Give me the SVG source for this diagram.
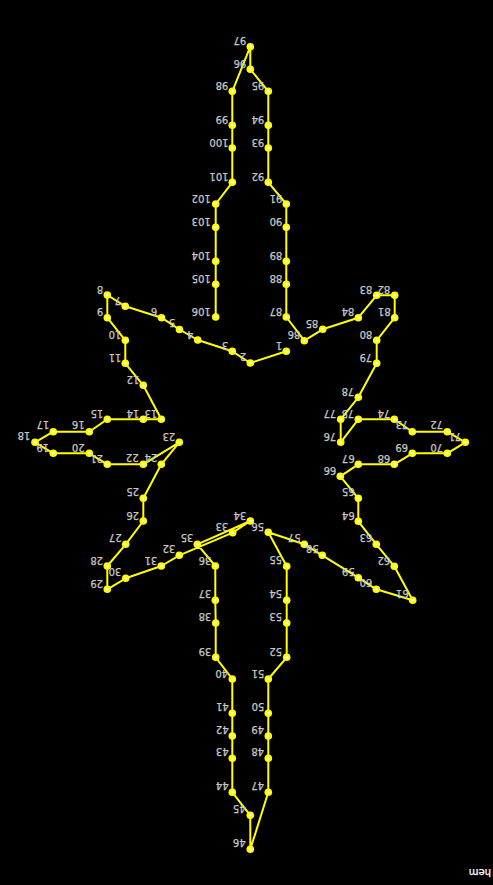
<svg xmlns="http://www.w3.org/2000/svg" width="493" height="885" viewBox="0 0 493 885">
<style>
text{font-family:"DejaVu Sans",sans-serif;font-size:10px;fill:#c8c8c8;stroke:#c8c8c8;stroke-width:.25;text-anchor:middle;dominant-baseline:central}
.edge{fill:none;stroke:#ffff00;stroke-width:2;stroke-linejoin:round}
text.note{fill:#fff;stroke:#fff;text-anchor:start;dominant-baseline:alphabetic}
</style>
<defs><g id="d"><circle r="3.8" fill="#ffff00"/><circle r="1.2" fill="#fff"/></g></defs>
<rect width="493" height="885" fill="#000"/>
<g id="connectors"><polyline class="edge" points="286.3,351.3 250.3,363 232.3,351.3 197.7,340 179.5,329.5 161.5,317.7 125.3,306.3 107.3,295 107.3,317.7 125.3,340.3 125.3,363.3 143.3,385.3 161.3,419.3 143.3,419.3 107.3,419.3 89.3,431.7 53.3,431.7 35,442.3 53.3,453.3 89.3,453.3 107.3,464.3 143.3,464.3 179.3,442.3 161.3,464.3 143.3,498.3 143.3,521 125.7,544.3 107.3,566 107.3,589.3 125.7,578.3 161.3,566 179.3,555.3 232.7,532.7 250.3,521 197.3,544.3 215.3,566 215.3,600.3 215.7,623 215.7,657.3 232.3,679 232.3,713.3 232.3,736 232.3,758.3 232.3,792.3 250.3,815.3 250.3,849.3 268.3,792.3 268.3,758.3 268.3,736 268.3,713.3 268.3,679 286.7,657.3 286.7,623 286.7,600.3 286.7,566.3 268.3,532.3 304.3,544.3 322.3,555.3 358.3,577.7 376.3,589.3 412.7,600.3 394.3,566.3 376.3,544.3 358.3,521.3 358.3,498.3 340.3,476.3 358.3,464.3 394.3,464.3 412.3,453.3 447.3,453.3 465.3,442.3 447.3,431.7 412.3,431.7 394.3,419.3 358.3,419.3 340.7,442.3 340.7,419.3 358.3,397.3 376.7,363.3 376.7,340.3 394.7,317.7 394.7,295.3 376.7,295.3 358.3,317.7 322.7,329.3 304.3,340.7 286.3,317 286.3,284.3 286.3,261.3 286.3,227.3 286.3,204 268.3,182.3 268.3,148 268.3,125.3 268.3,91.3 250.3,69.3 250.3,46.7 232.3,91.3 232.3,125.3 232.3,148 232.3,182.3 215.7,204 215.7,227.3 215.7,261.3 215.7,284.3 215.7,317"/></g>
<g id="n1"><use href="#d" x="286.3" y="351.3"/><text transform="translate(279,345) rotate(180)">1</text></g>
<g id="n2"><use href="#d" x="250.3" y="363"/><text transform="translate(243,356.7) rotate(180)">2</text></g>
<g id="n3"><use href="#d" x="232.3" y="351.3"/><text transform="translate(225,345) rotate(180)">3</text></g>
<g id="n4"><use href="#d" x="197.7" y="340"/><text transform="translate(190,334) rotate(180)">4</text></g>
<g id="n5"><use href="#d" x="179.5" y="329.5"/><text transform="translate(172,322.7) rotate(180)">5</text></g>
<g id="n6"><use href="#d" x="161.5" y="317.7"/><text transform="translate(154,311.3) rotate(180)">6</text></g>
<g id="n7"><use href="#d" x="125.3" y="306.3"/><text transform="translate(117.7,300) rotate(180)">7</text></g>
<g id="n8"><use href="#d" x="107.3" y="295"/><text transform="translate(100,289) rotate(180)">8</text></g>
<g id="n9"><use href="#d" x="107.3" y="317.7"/><text transform="translate(100,311.3) rotate(180)">9</text></g>
<g id="n10"><use href="#d" x="125.3" y="340.3"/><text transform="translate(115,334) rotate(180)">10</text></g>
<g id="n11"><use href="#d" x="125.3" y="363.3"/><text transform="translate(115,357) rotate(180)">11</text></g>
<g id="n12"><use href="#d" x="143.3" y="385.3"/><text transform="translate(133,379) rotate(180)">12</text></g>
<g id="n13"><use href="#d" x="161.3" y="419.3"/><text transform="translate(151,413) rotate(180)">13</text></g>
<g id="n14"><use href="#d" x="143.3" y="419.3"/><text transform="translate(133,413) rotate(180)">14</text></g>
<g id="n15"><use href="#d" x="107.3" y="419.3"/><text transform="translate(97,413) rotate(180)">15</text></g>
<g id="n16"><use href="#d" x="89.3" y="431.7"/><text transform="translate(78.3,424.7) rotate(180)">16</text></g>
<g id="n17"><use href="#d" x="53.3" y="431.7"/><text transform="translate(43,424.7) rotate(180)">17</text></g>
<g id="n18"><use href="#d" x="35" y="442.3"/><text transform="translate(24,435.7) rotate(180)">18</text></g>
<g id="n19"><use href="#d" x="53.3" y="453.3"/><text transform="translate(42.7,447) rotate(180)">19</text></g>
<g id="n20"><use href="#d" x="89.3" y="453.3"/><text transform="translate(78.3,447) rotate(180)">20</text></g>
<g id="n21"><use href="#d" x="107.3" y="464.3"/><text transform="translate(96.7,458.3) rotate(180)">21</text></g>
<g id="n22"><use href="#d" x="143.3" y="464.3"/><text transform="translate(132.3,457.7) rotate(180)">22</text></g>
<g id="n23"><use href="#d" x="179.3" y="442.3"/><text transform="translate(169,436) rotate(180)">23</text></g>
<g id="n24"><use href="#d" x="161.3" y="464.3"/><text transform="translate(151,457.7) rotate(180)">24</text></g>
<g id="n25"><use href="#d" x="143.3" y="498.3"/><text transform="translate(132.7,491.7) rotate(180)">25</text></g>
<g id="n26"><use href="#d" x="143.3" y="521"/><text transform="translate(132.7,515) rotate(180)">26</text></g>
<g id="n27"><use href="#d" x="125.7" y="544.3"/><text transform="translate(115.3,537.7) rotate(180)">27</text></g>
<g id="n28"><use href="#d" x="107.3" y="566"/><text transform="translate(96.7,560) rotate(180)">28</text></g>
<g id="n29"><use href="#d" x="107.3" y="589.3"/><text transform="translate(96.7,583) rotate(180)">29</text></g>
<g id="n30"><use href="#d" x="125.7" y="578.3"/><text transform="translate(115,571.7) rotate(180)">30</text></g>
<g id="n31"><use href="#d" x="161.3" y="566"/><text transform="translate(151,560) rotate(180)">31</text></g>
<g id="n32"><use href="#d" x="179.3" y="555.3"/><text transform="translate(169,548.7) rotate(180)">32</text></g>
<g id="n33"><use href="#d" x="232.7" y="532.7"/><text transform="translate(222,526) rotate(180)">33</text></g>
<g id="n34"><use href="#d" x="250.3" y="521"/><text transform="translate(240,515) rotate(180)">34</text></g>
<g id="n35"><use href="#d" x="197.3" y="544.3"/><text transform="translate(187,537.7) rotate(180)">35</text></g>
<g id="n36"><use href="#d" x="215.3" y="566"/><text transform="translate(205,560) rotate(180)">36</text></g>
<g id="n37"><use href="#d" x="215.3" y="600.3"/><text transform="translate(205,593.7) rotate(180)">37</text></g>
<g id="n38"><use href="#d" x="215.7" y="623"/><text transform="translate(205,616.7) rotate(180)">38</text></g>
<g id="n39"><use href="#d" x="215.7" y="657.3"/><text transform="translate(205,651) rotate(180)">39</text></g>
<g id="n40"><use href="#d" x="232.3" y="679"/><text transform="translate(221.7,673) rotate(180)">40</text></g>
<g id="n41"><use href="#d" x="232.3" y="713.3"/><text transform="translate(222.5,706.7) rotate(180)">41</text></g>
<g id="n42"><use href="#d" x="232.3" y="736"/><text transform="translate(222.3,729.3) rotate(180)">42</text></g>
<g id="n43"><use href="#d" x="232.3" y="758.3"/><text transform="translate(222.3,751.7) rotate(180)">43</text></g>
<g id="n44"><use href="#d" x="232.3" y="792.3"/><text transform="translate(222.3,785.7) rotate(180)">44</text></g>
<g id="n45"><use href="#d" x="250.3" y="815.3"/><text transform="translate(239.3,808.7) rotate(180)">45</text></g>
<g id="n46"><use href="#d" x="250.3" y="849.3"/><text transform="translate(239.3,842.7) rotate(180)">46</text></g>
<g id="n47"><use href="#d" x="268.3" y="792.3"/><text transform="translate(257.7,785.7) rotate(180)">47</text></g>
<g id="n48"><use href="#d" x="268.3" y="758.3"/><text transform="translate(257.7,751.7) rotate(180)">48</text></g>
<g id="n49"><use href="#d" x="268.3" y="736"/><text transform="translate(257.7,729.3) rotate(180)">49</text></g>
<g id="n50"><use href="#d" x="268.3" y="713.3"/><text transform="translate(258,706.7) rotate(180)">50</text></g>
<g id="n51"><use href="#d" x="268.3" y="679"/><text transform="translate(258,673) rotate(180)">51</text></g>
<g id="n52"><use href="#d" x="286.7" y="657.3"/><text transform="translate(275.7,651) rotate(180)">52</text></g>
<g id="n53"><use href="#d" x="286.7" y="623"/><text transform="translate(275.7,616.7) rotate(180)">53</text></g>
<g id="n54"><use href="#d" x="286.7" y="600.3"/><text transform="translate(275.7,593.7) rotate(180)">54</text></g>
<g id="n55"><use href="#d" x="286.7" y="566.3"/><text transform="translate(275.7,559.7) rotate(180)">55</text></g>
<g id="n56"><use href="#d" x="268.3" y="532.3"/><text transform="translate(257.7,526) rotate(180)">56</text></g>
<g id="n57"><use href="#d" x="304.3" y="544.3"/><text transform="translate(294.3,537.7) rotate(180)">57</text></g>
<g id="n58"><use href="#d" x="322.3" y="555.3"/><text transform="translate(312.3,548.7) rotate(180)">58</text></g>
<g id="n59"><use href="#d" x="358.3" y="577.7"/><text transform="translate(348.3,571.7) rotate(180)">59</text></g>
<g id="n60"><use href="#d" x="376.3" y="589.3"/><text transform="translate(366,582.7) rotate(180)">60</text></g>
<g id="n61"><use href="#d" x="412.7" y="600.3"/><text transform="translate(402.3,593.7) rotate(180)">61</text></g>
<g id="n62"><use href="#d" x="394.3" y="566.3"/><text transform="translate(384,560) rotate(180)">62</text></g>
<g id="n63"><use href="#d" x="376.3" y="544.3"/><text transform="translate(366,537.7) rotate(180)">63</text></g>
<g id="n64"><use href="#d" x="358.3" y="521.3"/><text transform="translate(348.3,515) rotate(180)">64</text></g>
<g id="n65"><use href="#d" x="358.3" y="498.3"/><text transform="translate(348.3,491.7) rotate(180)">65</text></g>
<g id="n66"><use href="#d" x="340.3" y="476.3"/><text transform="translate(330,470) rotate(180)">66</text></g>
<g id="n67"><use href="#d" x="358.3" y="464.3"/><text transform="translate(348.3,458.3) rotate(180)">67</text></g>
<g id="n68"><use href="#d" x="394.3" y="464.3"/><text transform="translate(384,458.3) rotate(180)">68</text></g>
<g id="n69"><use href="#d" x="412.3" y="453.3"/><text transform="translate(401.7,447) rotate(180)">69</text></g>
<g id="n70"><use href="#d" x="447.3" y="453.3"/><text transform="translate(436.7,447.3) rotate(180)">70</text></g>
<g id="n71"><use href="#d" x="465.3" y="442.3"/><text transform="translate(455,436) rotate(180)">71</text></g>
<g id="n72"><use href="#d" x="447.3" y="431.7"/><text transform="translate(436.7,424.7) rotate(180)">72</text></g>
<g id="n73"><use href="#d" x="412.3" y="431.7"/><text transform="translate(402,424.7) rotate(180)">73</text></g>
<g id="n74"><use href="#d" x="394.3" y="419.3"/><text transform="translate(384,413) rotate(180)">74</text></g>
<g id="n75"><use href="#d" x="358.3" y="419.3"/><text transform="translate(348,413) rotate(180)">75</text></g>
<g id="n76"><use href="#d" x="340.7" y="442.3"/><text transform="translate(330,436) rotate(180)">76</text></g>
<g id="n77"><use href="#d" x="340.7" y="419.3"/><text transform="translate(330,413) rotate(180)">77</text></g>
<g id="n78"><use href="#d" x="358.3" y="397.3"/><text transform="translate(348,391) rotate(180)">78</text></g>
<g id="n79"><use href="#d" x="376.7" y="363.3"/><text transform="translate(366,357) rotate(180)">79</text></g>
<g id="n80"><use href="#d" x="376.7" y="340.3"/><text transform="translate(366,334) rotate(180)">80</text></g>
<g id="n81"><use href="#d" x="394.7" y="317.7"/><text transform="translate(384.3,311) rotate(180)">81</text></g>
<g id="n82"><use href="#d" x="394.7" y="295.3"/><text transform="translate(384,289) rotate(180)">82</text></g>
<g id="n83"><use href="#d" x="376.7" y="295.3"/><text transform="translate(366,289) rotate(180)">83</text></g>
<g id="n84"><use href="#d" x="358.3" y="317.7"/><text transform="translate(348,311) rotate(180)">84</text></g>
<g id="n85"><use href="#d" x="322.7" y="329.3"/><text transform="translate(312,323.3) rotate(180)">85</text></g>
<g id="n86"><use href="#d" x="304.3" y="340.7"/><text transform="translate(294,334) rotate(180)">86</text></g>
<g id="n87"><use href="#d" x="286.3" y="317"/><text transform="translate(276,311) rotate(180)">87</text></g>
<g id="n88"><use href="#d" x="286.3" y="284.3"/><text transform="translate(276,278.3) rotate(180)">88</text></g>
<g id="n89"><use href="#d" x="286.3" y="261.3"/><text transform="translate(276,255.3) rotate(180)">89</text></g>
<g id="n90"><use href="#d" x="286.3" y="227.3"/><text transform="translate(276,221.3) rotate(180)">90</text></g>
<g id="n91"><use href="#d" x="286.3" y="204"/><text transform="translate(276,198.3) rotate(180)">91</text></g>
<g id="n92"><use href="#d" x="268.3" y="182.3"/><text transform="translate(258,176) rotate(180)">92</text></g>
<g id="n93"><use href="#d" x="268.3" y="148"/><text transform="translate(258,142) rotate(180)">93</text></g>
<g id="n94"><use href="#d" x="268.3" y="125.3"/><text transform="translate(258,119) rotate(180)">94</text></g>
<g id="n95"><use href="#d" x="268.3" y="91.3"/><text transform="translate(258,85) rotate(180)">95</text></g>
<g id="n96"><use href="#d" x="250.3" y="69.3"/><text transform="translate(240,63) rotate(180)">96</text></g>
<g id="n97"><use href="#d" x="250.3" y="46.7"/><text transform="translate(240,40.7) rotate(180)">97</text></g>
<g id="n98"><use href="#d" x="232.3" y="91.3"/><text transform="translate(222,85) rotate(180)">98</text></g>
<g id="n99"><use href="#d" x="232.3" y="125.3"/><text transform="translate(222,119) rotate(180)">99</text></g>
<g id="n100"><use href="#d" x="232.3" y="148"/><text transform="translate(219,142) rotate(180)">100</text></g>
<g id="n101"><use href="#d" x="232.3" y="182.3"/><text transform="translate(219,176) rotate(180)">101</text></g>
<g id="n102"><use href="#d" x="215.7" y="204"/><text transform="translate(201.3,198.3) rotate(180)">102</text></g>
<g id="n103"><use href="#d" x="215.7" y="227.3"/><text transform="translate(201.3,221.3) rotate(180)">103</text></g>
<g id="n104"><use href="#d" x="215.7" y="261.3"/><text transform="translate(201.3,255.3) rotate(180)">104</text></g>
<g id="n105"><use href="#d" x="215.7" y="284.3"/><text transform="translate(201.3,278.3) rotate(180)">105</text></g>
<g id="n106"><use href="#d" x="215.7" y="317"/><text transform="translate(201.3,311) rotate(180)">106</text></g>
<text class="note" transform="translate(491,869) rotate(180)">hem</text>
</svg>
